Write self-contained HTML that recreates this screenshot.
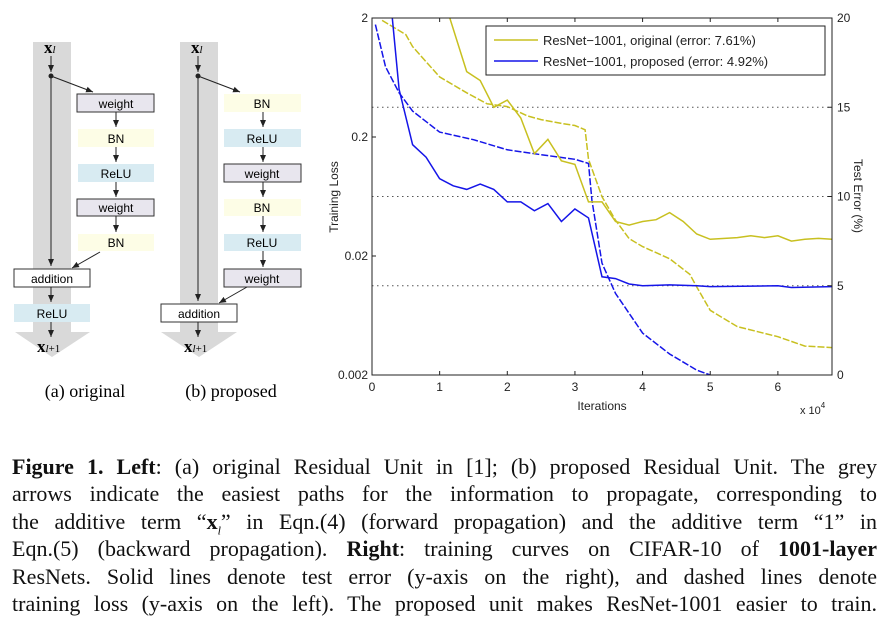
<!DOCTYPE html>
<html><head><meta charset="utf-8"><style>
body{margin:0;width:889px;height:629px;background:#fff;position:relative;overflow:hidden;font-family:"Liberation Sans",sans-serif}
.cap{position:absolute;left:12px;width:865px;font-family:"Liberation Serif",serif;font-size:22px;line-height:22px;text-align:justify;text-align-last:justify;white-space:nowrap;color:#111}
svg text{font-family:"Liberation Sans",sans-serif}
svg text.serif{font-family:"Liberation Serif",serif}
</style></head><body>
<svg width="330" height="410" style="position:absolute;left:0;top:0">
<defs><marker id="ar" markerWidth="8" markerHeight="8" refX="7" refY="4" orient="auto"><path d="M0,1 L7,4 L0,7 z" fill="#222"/></marker></defs>
<g>
<polygon points="33,42 71,42 71,332 90,332 52,357 15,332 33,332" fill="#d9d9d9"/>
<text class="serif" x="44" y="53" font-size="17" font-weight="bold">x<tspan font-size="11" font-style="italic" font-weight="normal">l</tspan></text>
<line x1="51" y1="56" x2="51" y2="72" stroke="#222" marker-end="url(#ar)"/>
<circle cx="51" cy="76" r="2.5" fill="#222"/>
<line x1="51" y1="76" x2="51" y2="266" stroke="#222" marker-end="url(#ar)"/>
<line x1="51" y1="76" x2="93" y2="92" stroke="#222" marker-end="url(#ar)"/>
<rect x="77" y="94" width="77" height="18" fill="#e8e6ee" stroke="#333"/><text x="116" y="108" font-size="12" text-anchor="middle">weight</text>
<rect x="78" y="129" width="76" height="18" fill="#fdfde6"/><text x="116" y="143" font-size="12" text-anchor="middle">BN</text>
<rect x="78" y="164" width="76" height="18" fill="#d8ebf2"/><text x="116" y="178" font-size="12" text-anchor="middle">ReLU</text>
<rect x="77" y="199" width="77" height="17" fill="#e8e6ee" stroke="#333"/><text x="116" y="212" font-size="12" text-anchor="middle">weight</text>
<rect x="78" y="234" width="76" height="17" fill="#fdfde6"/><text x="116" y="247" font-size="12" text-anchor="middle">BN</text>
<line x1="116" y1="112" x2="116" y2="127" stroke="#222" marker-end="url(#ar)"/>
<line x1="116" y1="147" x2="116" y2="162" stroke="#222" marker-end="url(#ar)"/>
<line x1="116" y1="182" x2="116" y2="197" stroke="#222" marker-end="url(#ar)"/>
<line x1="116" y1="216" x2="116" y2="232" stroke="#222" marker-end="url(#ar)"/>
<line x1="100" y1="252" x2="72" y2="268" stroke="#222" marker-end="url(#ar)"/>
<rect x="14" y="269" width="76" height="18" fill="#fff" stroke="#333"/><text x="52" y="283" font-size="12" text-anchor="middle">addition</text>
<line x1="51" y1="287" x2="51" y2="302" stroke="#222" marker-end="url(#ar)"/>
<rect x="14" y="304" width="76" height="18" fill="#d8ebf2"/><text x="52" y="318" font-size="12" text-anchor="middle">ReLU</text>
<line x1="51" y1="322" x2="51" y2="337" stroke="#222" marker-end="url(#ar)"/>
<text class="serif" x="37" y="352" font-size="17" font-weight="bold">x<tspan font-size="11" font-weight="normal"><tspan font-style="italic">l</tspan>+1</tspan></text>
<text class="serif" x="85" y="397" font-size="18" text-anchor="middle">(a) original</text>
</g>
<g>
<polygon points="180,42 218,42 218,332 237,332 199,357 161,332 180,332" fill="#d9d9d9"/>
<text class="serif" x="191" y="53" font-size="17" font-weight="bold">x<tspan font-size="11" font-style="italic" font-weight="normal">l</tspan></text>
<line x1="198" y1="56" x2="198" y2="72" stroke="#222" marker-end="url(#ar)"/>
<circle cx="198" cy="76" r="2.5" fill="#222"/>
<line x1="198" y1="76" x2="198" y2="301" stroke="#222" marker-end="url(#ar)"/>
<line x1="198" y1="76" x2="240" y2="92" stroke="#222" marker-end="url(#ar)"/>
<rect x="224" y="94" width="77" height="18" fill="#fdfde6"/><text x="262" y="108" font-size="12" text-anchor="middle">BN</text>
<rect x="224" y="129" width="77" height="18" fill="#d8ebf2"/><text x="262" y="143" font-size="12" text-anchor="middle">ReLU</text>
<rect x="224" y="164" width="77" height="18" fill="#e8e6ee" stroke="#333"/><text x="262" y="178" font-size="12" text-anchor="middle">weight</text>
<rect x="224" y="199" width="77" height="17" fill="#fdfde6"/><text x="262" y="212" font-size="12" text-anchor="middle">BN</text>
<rect x="224" y="234" width="77" height="17" fill="#d8ebf2"/><text x="262" y="247" font-size="12" text-anchor="middle">ReLU</text>
<rect x="224" y="269" width="77" height="18" fill="#e8e6ee" stroke="#333"/><text x="262" y="283" font-size="12" text-anchor="middle">weight</text>
<line x1="263" y1="112" x2="263" y2="127" stroke="#222" marker-end="url(#ar)"/>
<line x1="263" y1="147" x2="263" y2="162" stroke="#222" marker-end="url(#ar)"/>
<line x1="263" y1="182" x2="263" y2="197" stroke="#222" marker-end="url(#ar)"/>
<line x1="263" y1="216" x2="263" y2="232" stroke="#222" marker-end="url(#ar)"/>
<line x1="263" y1="251" x2="263" y2="267" stroke="#222" marker-end="url(#ar)"/>
<line x1="247" y1="287" x2="219" y2="303" stroke="#222" marker-end="url(#ar)"/>
<rect x="161" y="304" width="76" height="18" fill="#fff" stroke="#333"/><text x="199" y="318" font-size="12" text-anchor="middle">addition</text>
<line x1="198" y1="322" x2="198" y2="337" stroke="#222" marker-end="url(#ar)"/>
<text class="serif" x="184" y="352" font-size="17" font-weight="bold">x<tspan font-size="11" font-weight="normal"><tspan font-style="italic">l</tspan>+1</tspan></text>
<text class="serif" x="231" y="397" font-size="18" text-anchor="middle">(b) proposed</text>
</g>
</svg>
<svg id="chart" width="889" height="440" style="position:absolute;left:0;top:0"></svg>
<div class="cap" style="top:456px"><b>Figure 1. Left</b>: (a) original Residual Unit in [1]; (b) proposed Residual Unit. The grey</div>
<div class="cap" style="top:483px">arrows indicate the easiest paths for the information to propagate, corresponding to</div>
<div class="cap" style="top:511px">the additive term “<b>x</b><sub style="font-size:12px"><i>l</i></sub>” in Eqn.(4) (forward propagation) and the additive term “1” in</div>
<div class="cap" style="top:538px">Eqn.(5) (backward propagation). <b>Right</b>: training curves on CIFAR-10 of <b>1001-layer</b></div>
<div class="cap" style="top:566px">ResNets. Solid lines denote test error (y-axis on the right), and dashed lines denote</div>
<div class="cap" style="top:593px">training loss (y-axis on the left). The proposed unit makes ResNet-1001 easier to train.</div>
<script>
const origErrX=[1.15,1.4,1.6,1.8,2.0,2.2,2.4,2.6,2.8,3.0,3.2,3.4,3.6,3.8,4.0,4.2,4.4,4.6,4.8,5.0,5.4,5.6,5.8,6.0,6.2,6.4,6.6,6.8];
const origErrY=[20,17.0,16.5,15.0,15.4,14.4,12.4,13.2,12.0,11.8,9.7,9.7,8.6,8.4,8.6,8.7,9.1,8.6,7.9,7.6,7.7,7.8,7.7,7.8,7.5,7.6,7.65,7.6];
const propErrX=[0.3,0.4,0.6,0.8,1.0,1.2,1.4,1.6,1.8,2.0,2.2,2.4,2.6,2.8,3.0,3.2,3.4,3.6,3.8,4.0,4.4,4.8,5.0,6.0,6.2,6.8];
const propErrY=[20,16.0,12.9,12.2,11.0,10.6,10.4,10.7,10.4,9.7,9.7,9.2,9.6,8.6,9.3,8.8,5.5,5.4,5.1,5.0,5.05,5.0,4.95,5.0,4.9,4.95];
const origLossX=[0.15,0.5,0.6,1.0,1.4,1.7,2.0,2.3,2.5,2.8,3.0,3.15,3.2,3.4,3.6,3.8,4.0,4.4,4.7,4.8,5.0,5.4,6.0,6.4,6.8];
const origLossY=[1.91,1.45,1.15,0.64,0.47,0.38,0.36,0.30,0.28,0.26,0.25,0.23,0.13,0.063,0.04,0.028,0.024,0.019,0.014,0.011,0.007,0.0051,0.0042,0.0035,0.0034];
const propLossX=[0.05,0.2,0.4,0.6,1.0,1.5,2.0,2.5,3.0,3.2,3.25,3.4,3.6,3.8,4.0,4.4,4.8,5.0];
const propLossY=[1.76,0.78,0.47,0.33,0.22,0.19,0.156,0.142,0.13,0.12,0.059,0.0174,0.0097,0.0066,0.0045,0.003,0.0022,0.002];
const xTicks=[0,1,2,3,4,5,6];
const lossTicks=[2,0.2,0.02,0.002];
const lossTickLabels=["2","0.2","0.02","0.002"];
const errTicks=[0,5,10,15,20];
const L=372,R=832,T=18,B=375;
const xs=v=>L+v*(R-L)/6.8;
const ye=v=>B-v*(B-T)/20;
const yl=v=>T+(Math.log10(2)-Math.log10(v))*(B-T)/3;
const svg=document.getElementById('chart');
const NS='http://www.w3.org/2000/svg';
function mk(tag,attrs,parent){const e=document.createElementNS(NS,tag);for(const k in attrs)e.setAttribute(k,attrs[k]);(parent||svg).appendChild(e);return e;}
function txt(x,y,s,anchor,size){const t=mk('text',{x:x,y:y,'font-size':size||12,'text-anchor':anchor||'middle',fill:'#222'});t.textContent=s;return t;}
[5,10,15].forEach(v=>{const g=mk('line',{x1:L,x2:R,y1:ye(v),y2:ye(v),stroke:'#555','stroke-dasharray':'1.5,3.5','stroke-width':1});

});
const clip=mk('clipPath',{id:'pc'});mk('rect',{x:L,y:T,width:R-L,height:B-T},clip);
const g=mk('g',{'clip-path':'url(#pc)'});
function lineG(xa,ya,ys,color,dash,name){
const d=xa.map((x,i)=>(i?'L':'M')+xs(x).toFixed(1)+','+ys(ya[i]).toFixed(1)).join(' ');
const p=mk('path',{d:d,fill:'none',stroke:color,'stroke-width':1.5},g);
if(dash)p.setAttribute('stroke-dasharray','7,2');

}
lineG(origLossX,origLossY,yl,'#c8c020',true,'original-training-loss-line');
lineG(propLossX,propLossY,yl,'#1515e8',true,'proposed-training-loss-line');
lineG(origErrX,origErrY,ye,'#c8c020',false,'original-test-error-line');
lineG(propErrX,propErrY,ye,'#1515e8',false,'proposed-test-error-line');
const box=mk('rect',{x:L,y:T,width:R-L,height:B-T,fill:'none',stroke:'#222','stroke-width':1});


xTicks.forEach(v=>{mk('line',{x1:xs(v),x2:xs(v),y1:B,y2:B-4,stroke:'#222'});mk('line',{x1:xs(v),x2:xs(v),y1:T,y2:T+4,stroke:'#222'});
const t=txt(xs(v),B+16,String(v));

});
lossTicks.forEach((v,i)=>{mk('line',{x1:L,x2:L+4,y1:yl(v),y2:yl(v),stroke:'#222'});
const t=txt(L-4,yl(v)+4,lossTickLabels[i],'end');

});
errTicks.forEach(v=>{mk('line',{x1:R-4,x2:R,y1:ye(v),y2:ye(v),stroke:'#222'});
const t=txt(R+5,ye(v)+4,String(v),'start');

});
const xt=txt(602,410,'Iterations');


const xm=txt(800,414,'x 10','start',11);mk('tspan',{dy:-6,'font-size':8},xm).textContent='4';


const yt=txt(0,0,'Training Loss');yt.setAttribute('transform','translate(338,197) rotate(-90)');


const yr=txt(0,0,'Test Error (%)');yr.setAttribute('transform','translate(854,196) rotate(90)');


const lg=mk('g',{});


mk('rect',{x:486,y:26,width:339,height:49,fill:'#fff',stroke:'#222'},lg);
mk('line',{x1:494,x2:538,y1:40,y2:40,stroke:'#c8c020','stroke-width':1.5},lg);
mk('line',{x1:494,x2:538,y1:61,y2:61,stroke:'#1515e8','stroke-width':1.5},lg);
const l1=mk('text',{x:543,y:45,'font-size':13,fill:'#222'},lg);l1.textContent='ResNet\u22121001, original (error: 7.61%)';


const l2=mk('text',{x:543,y:66,'font-size':13,fill:'#222'},lg);l2.textContent='ResNet\u22121001, proposed (error: 4.92%)';


</script>
</body></html>
